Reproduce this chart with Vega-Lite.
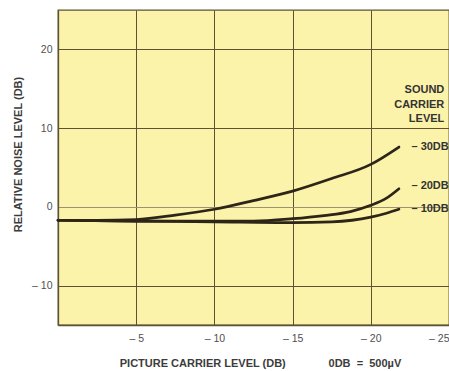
{
  "$schema": "https://vega.github.io/schema/vega-lite/v6.json",
  "autosize": "none",
  "width": 391,
  "height": 315,
  "padding": {"left": 58, "top": 10, "right": 0, "bottom": 46},
  "background": "#ffffff",
  "config": {
    "view": {"fill": "#FBF3AA", "stroke": "#5e5232", "strokeWidth": 1.3},
    "font": "Liberation Sans"
  },
  "datasets": {
    "curves": [
      {"level": "30DB", "pic": 0, "noise": -1.7},
      {"level": "30DB", "pic": -2.5, "noise": -1.7},
      {"level": "30DB", "pic": -5, "noise": -1.6},
      {"level": "30DB", "pic": -7.5, "noise": -1.05},
      {"level": "30DB", "pic": -10, "noise": -0.3},
      {"level": "30DB", "pic": -12.5, "noise": 0.8},
      {"level": "30DB", "pic": -15, "noise": 2.0},
      {"level": "30DB", "pic": -17.5, "noise": 3.6},
      {"level": "30DB", "pic": -20, "noise": 5.4},
      {"level": "30DB", "pic": -21.8, "noise": 7.6},
      {"level": "20DB", "pic": 0, "noise": -1.7},
      {"level": "20DB", "pic": -5, "noise": -1.8},
      {"level": "20DB", "pic": -10, "noise": -1.8},
      {"level": "20DB", "pic": -12.5, "noise": -1.8},
      {"level": "20DB", "pic": -15, "noise": -1.5},
      {"level": "20DB", "pic": -17, "noise": -1.1},
      {"level": "20DB", "pic": -18.7, "noise": -0.6},
      {"level": "20DB", "pic": -20, "noise": 0.2},
      {"level": "20DB", "pic": -21, "noise": 1.1},
      {"level": "20DB", "pic": -21.8, "noise": 2.3},
      {"level": "10DB", "pic": 0, "noise": -1.7},
      {"level": "10DB", "pic": -5, "noise": -1.8},
      {"level": "10DB", "pic": -10, "noise": -1.9},
      {"level": "10DB", "pic": -15, "noise": -2.0},
      {"level": "10DB", "pic": -17.5, "noise": -1.9},
      {"level": "10DB", "pic": -20, "noise": -1.3},
      {"level": "10DB", "pic": -21, "noise": -0.8},
      {"level": "10DB", "pic": -21.8, "noise": -0.3}
    ],
    "labels": [
      {"text": "– 30DB", "pic": -22.6, "noise": 7.6},
      {"text": "– 20DB", "pic": -22.6, "noise": 2.6},
      {"text": "– 10DB", "pic": -22.6, "noise": -0.3}
    ],
    "heading": [
      {"text": "SOUND", "pic": -24.7, "noise": 14.9},
      {"text": "CARRIER", "pic": -24.7, "noise": 13.0},
      {"text": "LEVEL", "pic": -24.7, "noise": 11.1}
    ]
  },
  "encoding": {
    "x": {
      "field": "pic", "type": "quantitative",
      "scale": {"domain": [0, -25], "nice": false, "zero": false},
      "axis": {
        "values": [-5, -10, -15, -20, -25],
        "labelExpr": "datum.value < 0 ? '– ' + abs(datum.value) : datum.value",
        "grid": true, "gridColor": "#5e5232", "gridOpacity": 1, "gridWidth": 1,
        "domain": true, "domainColor": "#5e5232", "domainWidth": 1.3,
        "ticks": false, "labelPadding": 8,
        "labelFont": "Liberation Sans", "labelFontSize": 10.5, "labelColor": "#505050",
        "title": "PICTURE CARRIER LEVEL (DB)\u00a0\u00a0\u00a0\u00a0\u00a0\u00a0\u00a0\u00a0\u00a0\u00a0\u00a0\u00a0\u00a0\u00a00DB\u00a0\u00a0=\u00a0\u00a0500µV",
        "titleFont": "Liberation Sans", "titleFontSize": 11, "titleFontWeight": "bold",
        "titleColor": "#3c3c3c", "titleX": 202, "titleY": 41, "titleBaseline": "alphabetic",
        "titleAlign": "center"
      }
    },
    "y": {
      "field": "noise", "type": "quantitative",
      "scale": {"domain": [-15, 25], "nice": false, "zero": false},
      "axis": {
        "values": [-10, 0, 10, 20],
        "labelExpr": "datum.value < 0 ? '– ' + abs(datum.value) : datum.value",
        "grid": true,
        "gridColor": {"condition": {"test": "datum.value === 0", "value": "#9c9270"}, "value": "#5e5232"},
        "gridOpacity": 1, "gridWidth": 1,
        "domain": true, "domainColor": "#5e5232", "domainWidth": 1.3,
        "ticks": false, "labelPadding": 6,
        "labelFont": "Liberation Sans", "labelFontSize": 10.5, "labelColor": "#505050",
        "title": "RELATIVE NOISE LEVEL (DB)",
        "titleFont": "Liberation Sans", "titleFontSize": 11, "titleFontWeight": "bold",
        "titleColor": "#3c3c3c", "titleX": -37, "titleY": 144, "titleBaseline": "alphabetic",
        "titleAngle": -90, "titleAlign": "center"
      }
    }
  },
  "layer": [
    {
      "data": {"name": "curves"},
      "mark": {"type": "line", "interpolate": "monotone", "color": "#2e2519", "strokeWidth": 2.7, "strokeCap": "round"},
      "encoding": {"detail": {"field": "level"}}
    },
    {
      "data": {"name": "labels"},
      "mark": {"type": "text", "align": "left", "baseline": "middle", "fontSize": 11, "fontWeight": "bold", "color": "#333333", "clip": false},
      "encoding": {"text": {"field": "text"}}
    },
    {
      "data": {"name": "heading"},
      "mark": {"type": "text", "align": "right", "baseline": "middle", "fontSize": 11, "fontWeight": "bold", "color": "#333333", "clip": false},
      "encoding": {"text": {"field": "text"}}
    }
  ]
}
